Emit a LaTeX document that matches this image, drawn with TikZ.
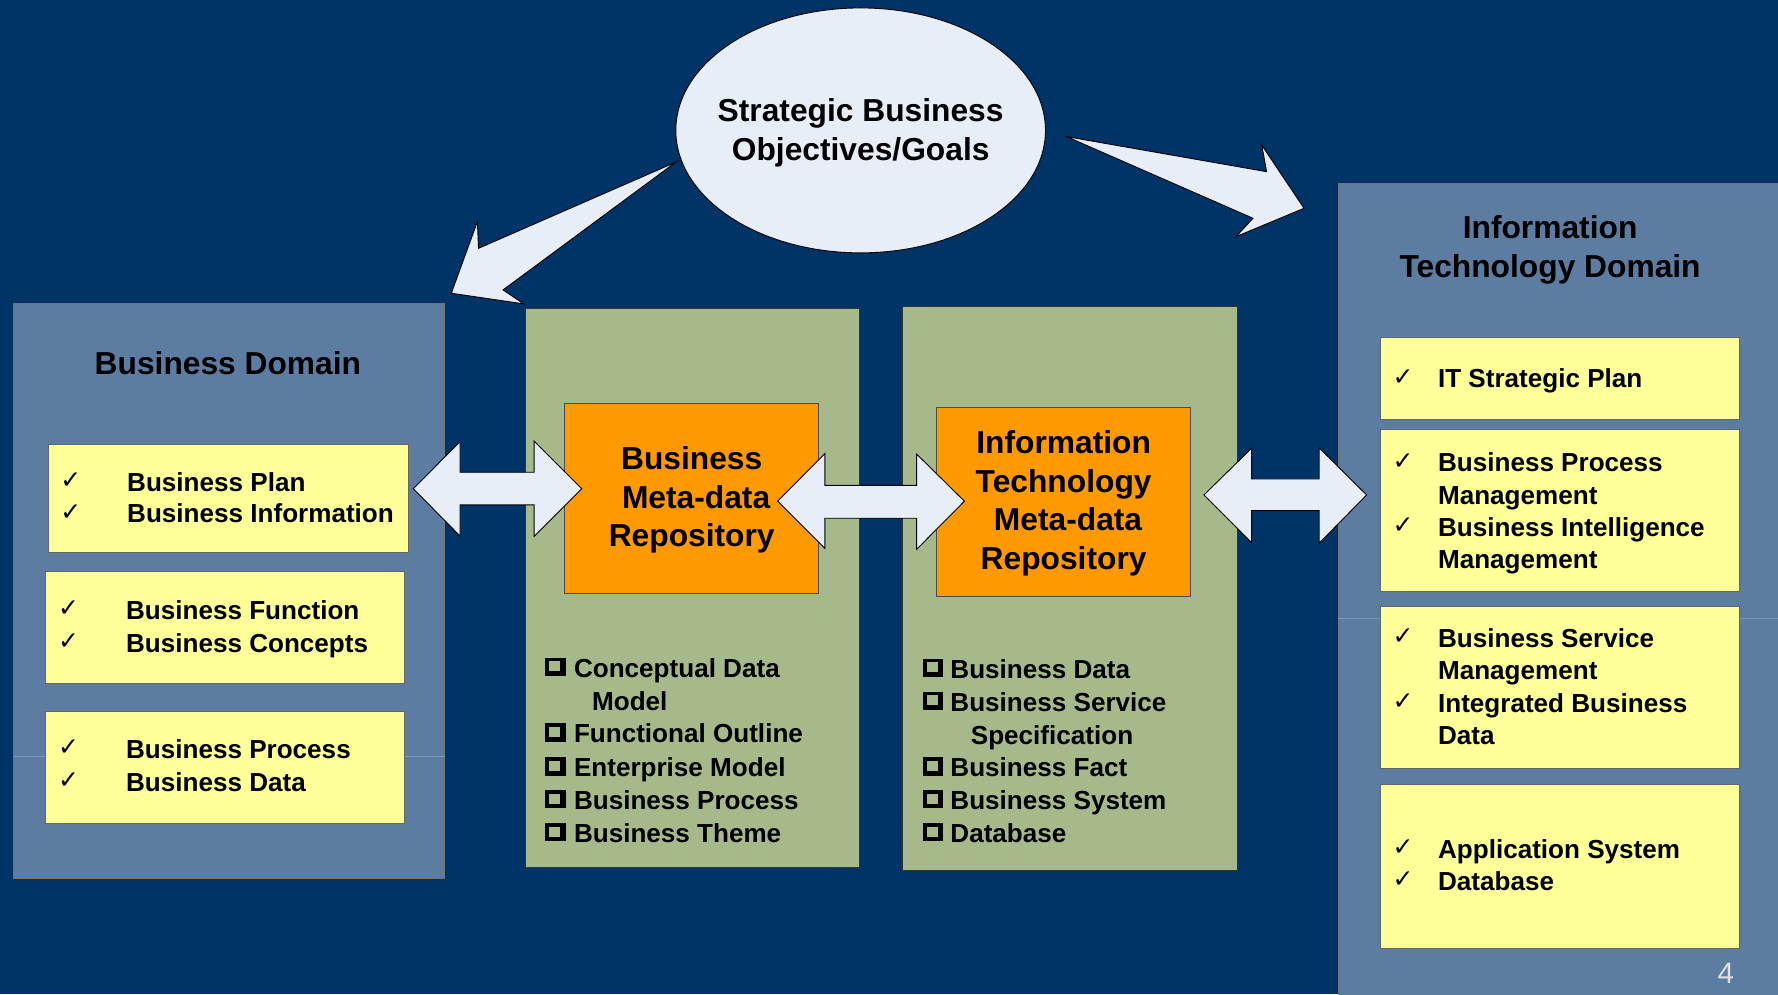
\documentclass[tikz,border=0pt]{standalone}
\usepackage{fontspec}
\usetikzlibrary{shapes.geometric}
\setmainfont{Liberation Sans}
\newfontfamily\symfont{DejaVu Sans}
\definecolor{navy}{RGB}{0,51,102}
\definecolor{panelblue}{RGB}{92,124,162}
\definecolor{panelgreen}{RGB}{166,185,138}
\definecolor{orangebox}{RGB}{255,153,0}
\definecolor{yellowbox}{RGB}{255,255,153}
\definecolor{paleblue}{RGB}{232,238,248}
\definecolor{faint}{RGB}{120,150,185}
\tikzset{
  panel/.style={fill=panelblue,draw=black!55,line width=0.8pt},
  greenpanel/.style={fill=panelgreen,draw=black!80,line width=0.8pt},
  orangestyle/.style={fill=orangebox,draw=black!70,line width=0.8pt},
  yellowstyle/.style={fill=yellowbox,draw=black!60,line width=0.8pt},
  blockarrow/.style={fill=paleblue,draw=black,line width=0.8pt,line join=miter},
  bigtitle/.style={font=\bfseries\fontsize{28}{34}\selectfont,align=center,text=black},
  itemtext/.style={font=\bfseries\fontsize{23}{28}\selectfont,anchor=mid west,inner sep=0pt,text=black,yshift=-5.5pt},
  checkmk/.style={font=\symfont\fontsize{22}{24}\selectfont,anchor=mid west,inner sep=0pt,text=black,yshift=-4pt},
  cbx/.pic={
    \fill[black] (-6,-6) rectangle (12,10);
    \fill[panelgreen] (-2.8,-3) rectangle (7,5.8);
  },
}
\begin{document}
\begin{tikzpicture}[x=1pt,y=-1pt]
\useasboundingbox (0,0) rectangle (1568,877);
\fill[navy] (0,0) rectangle (1568,877);

% domain panels
\draw[panel] (12,268) rectangle (392,775);
\draw[faint,line width=0.6pt] (12,667) -- (392,667);
\draw[panel] (1180,162) rectangle (1572,881);
\draw[faint,line width=0.6pt] (1180,545) -- (1568,545);

\node[bigtitle] (bdtitle) at (201,320) {Business Domain};
\node[bigtitle] (ittitle) at (1367,220.5) {Information\\Technology Domain};

% green panels
\draw[greenpanel] (463,272) rectangle (758,765);
\draw[greenpanel] (796,270) rectangle (1091,768);

% orange repositories
\node[orangestyle,minimum width=224pt,minimum height=167pt] (bmr) at (610,439.5) {};
\node[bigtitle] (bmrtext) at (610,441) {Business\\\ Meta-data\\Repository};
\node[orangestyle,minimum width=224pt,minimum height=167pt] (itmr) at (938,442.5) {};
\node[bigtitle] (itmrtext) at (938,444) {Information\\Technology\\\ Meta-data\\Repository};

% left yellow boxes
\draw[yellowstyle] (43,392) rectangle (360,487);
\draw[yellowstyle] (40,504) rectangle (357,603);
\draw[yellowstyle] (40,627) rectangle (357,726);
\node[checkmk] (c1) at (53,424) {✓};
\node[itemtext] (t1) at (112,425) {Business Plan};
\node[checkmk] (c2) at (53,452) {✓};
\node[itemtext] (t2) at (112,453) {Business Information};
\node[checkmk] (c3) at (51,537) {✓};
\node[itemtext] (t3) at (111,538) {Business Function};
\node[checkmk] (c4) at (51,566) {✓};
\node[itemtext] (t4) at (111,567) {Business Concepts};
\node[checkmk] (c5) at (51,660) {✓};
\node[itemtext] (t5) at (111,661) {Business Process};
\node[checkmk] (c6) at (51,689) {✓};
\node[itemtext] (t6) at (111,690) {Business Data};

% right yellow boxes
\draw[yellowstyle] (1217,298) rectangle (1534,370);
\draw[yellowstyle] (1217,379) rectangle (1534,522);
\draw[yellowstyle] (1217,535) rectangle (1534,678);
\draw[yellowstyle] (1217,692) rectangle (1534,836);
\node[checkmk] (r1c) at (1228,333) {✓};
\node[itemtext] (r1) at (1268,334) {IT Strategic Plan};
\node[checkmk] (r2c) at (1228,407) {✓};
\node[itemtext] (r2) at (1268,408) {Business Process};
\node[itemtext] (r3) at (1268,437) {Management};
\node[checkmk] (r4c) at (1228,464) {✓};
\node[itemtext] (r4) at (1268,465) {Business Intelligence};
\node[itemtext] (r5) at (1268,493) {Management};
\node[checkmk] (r6c) at (1228,562) {✓};
\node[itemtext] (r6) at (1268,563) {Business Service};
\node[itemtext] (r7) at (1268,591) {Management};
\node[checkmk] (r8c) at (1228,619) {✓};
\node[itemtext] (r8) at (1268,620) {Integrated Business};
\node[itemtext] (r9) at (1268,648) {Data};
\node[checkmk] (r10c) at (1228,748) {✓};
\node[itemtext] (r10) at (1268,749) {Application System};
\node[checkmk] (r11c) at (1228,776) {✓};
\node[itemtext] (r11) at (1268,777) {Database};

% green lists
\pic at (487,586) {cbx};
\node[itemtext] (g1) at (506,589) {Conceptual Data};
\node[itemtext] (g1x) at (522,618) {Model};
\pic at (487,644) {cbx};
\node[itemtext] (g2) at (506,647) {Functional Outline};
\pic at (487,674) {cbx};
\node[itemtext] (g3) at (506,677) {Enterprise Model};
\pic at (487,703) {cbx};
\node[itemtext] (g4) at (506,706) {Business Process};
\pic at (487,732) {cbx};
\node[itemtext] (g5) at (506,735) {Business Theme};

\pic at (820,587) {cbx};
\node[itemtext] (h1) at (838,590) {Business Data};
\pic at (820,616) {cbx};
\node[itemtext] (h2) at (838,619) {Business Service};
\node[itemtext] (h2x) at (856,648) {Specification};
\pic at (820,674) {cbx};
\node[itemtext] (h3) at (838,677) {Business Fact};
\pic at (820,703) {cbx};
\node[itemtext] (h4) at (838,706) {Business System};
\pic at (820,732) {cbx};
\node[itemtext] (h5) at (838,735) {Database};

% ellipse
\node[draw=black,line width=0.8pt,fill=paleblue,ellipse,minimum width=326pt,minimum height=216pt,inner sep=0pt] (goal) at (759,115) {};
\node[bigtitle] (goaltext) at (759,117) {Strategic Business\\Objectives/Goals};

% block arrows from the ellipse
\draw[blockarrow] (596,143) -- (422,219) -- (421,195.5) -- (398,258.6) -- (462,268) -- (443.6,255.7) -- cycle;
\draw[blockarrow] (940.6,120.5) -- (1117,151.4) -- (1112.7,127.9) -- (1150,183.7) -- (1090,208.7) -- (1105,192.5) -- cycle;

% double arrows
\draw[blockarrow] (364.5,431) -- (405.7,389.5) -- (405.7,416.5) -- (471,416.5) -- (471,389) -- (513,431) -- (471,473) -- (471,445.3) -- (405.7,445.3) -- (405.7,472.7) -- cycle;
\draw[blockarrow] (685.8,442) -- (727.4,400) -- (727.4,428) -- (808.4,428) -- (808.4,400.5) -- (850.5,442) -- (808.4,484.4) -- (808.4,457) -- (727.4,457) -- (727.4,483.5) -- cycle;
\draw[blockarrow] (1061.7,436.5) -- (1103.8,395.3) -- (1103.8,422.4) -- (1163.4,422.4) -- (1163.4,395) -- (1205.2,436.5) -- (1163.4,479) -- (1163.4,450.3) -- (1103.8,450.3) -- (1103.8,478.5) -- cycle;

% page number
\node[font=\fontsize{26}{30}\selectfont,text=black!12] (pagenum) at (1522,858) {4};
\end{tikzpicture}
\end{document}
